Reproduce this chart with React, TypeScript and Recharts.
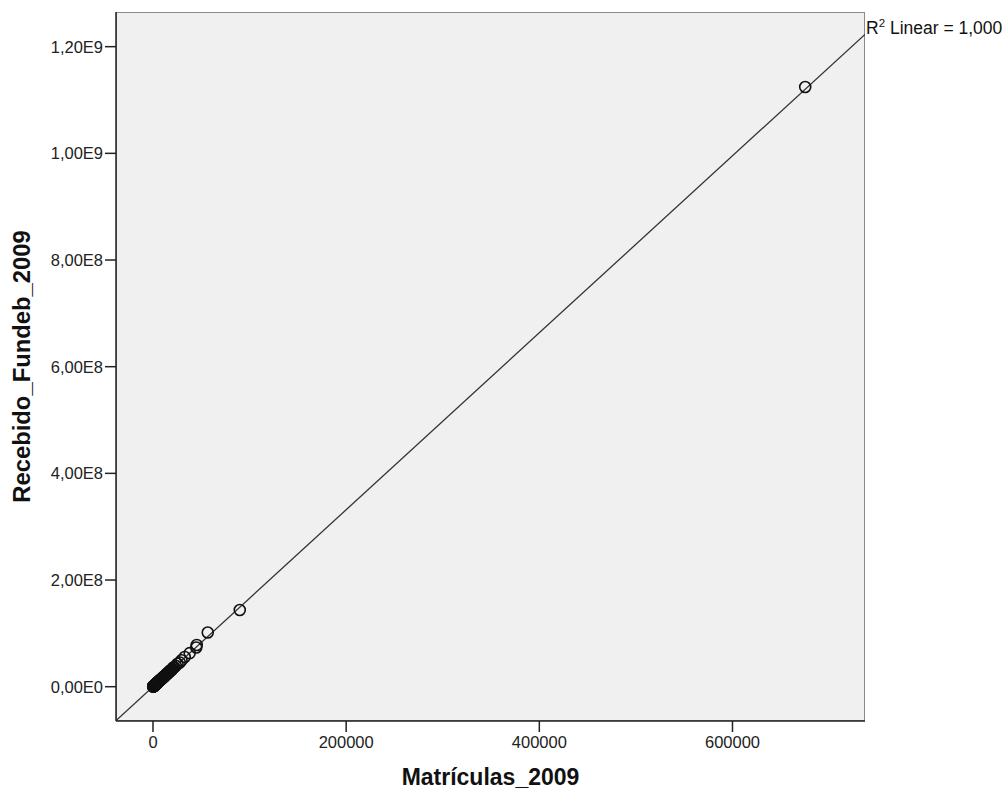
import React from "react";
import {
  CartesianGrid,
  Label,
  ReferenceArea,
  ReferenceLine,
  Scatter,
  ScatterChart,
  XAxis,
  YAxis,
} from "recharts";

// enrolments per municipality and the FUNDEB amount received (R$)
const matriculas2009 = [
  675300, 89850, 56700, 45300, 44800, 38000, 32850, 29500, 27700, 25400,
  23600, 21900, 20300, 18800, 17500, 16400, 15200, 14100, 13200, 12300,
  11500, 10800, 10100, 9400, 8800, 8200, 7700, 7200, 6700, 6200, 5800, 5400,
  5000, 4650, 4300, 4000, 3700, 3400, 3150, 2900, 2650, 2400, 2200, 2000,
  1800, 1600, 1420, 1250, 1080, 920, 780, 640, 510, 390,
  // smaller towns, packed together near the origin
  21000, 19500, 18200, 16900, 15800, 14700, 13600, 12700, 11900, 11100,
  10400, 9700, 9100, 8500, 7900, 7400, 6900, 6450, 6000, 5600, 5200, 4800,
  4450, 4150, 3850, 3550, 3250, 3000, 2750, 2500, 2300, 2100, 1900, 1700,
  1500, 1330, 1160, 1000, 850, 700, 570, 450, 330, 260, 200,
];
const recebido2009 = [
  1.1244e9, 1.438e8, 1.016e8, 7.82e7, 7.35e7, 6.3e7, 5.57e7, 4.95e7, 4.55e7,
  4.3e7, 3.9e7, 3.66e7, 3.35e7, 3.14e7, 2.93e7, 2.7e7, 2.55e7, 2.33e7,
  2.21e7, 2.03e7, 1.92e7, 1.78e7, 1.69e7, 1.55e7, 1.47e7, 1.36e7, 1.29e7,
  1.19e7, 1.12e7, 1.03e7, 9.7e6, 8.9e6, 8.4e6, 7.7e6, 7.2e6, 6.6e6, 6.2e6,
  5.6e6, 5.3e6, 4.8e6, 4.45e6, 3.95e6, 3.7e6, 3.3e6, 3.0e6, 2.7e6, 2.35e6,
  2.1e6, 1.8e6, 1.55e6, 1.3e6, 1.07e6, 8.6e5, 6.6e5,
  3.61e7, 3.16e7, 3.09e7, 2.74e7, 2.69e7, 2.38e7, 2.31e7, 2.06e7, 2.02e7,
  1.8e7, 1.77e7, 1.57e7, 1.55e7, 1.38e7, 1.34e7, 1.2e7, 1.17e7, 1.05e7,
  1.02e7, 9.1e6, 8.8e6, 7.8e6, 7.6e6, 6.7e6, 6.55e6, 5.75e6, 5.5e6, 4.9e6,
  4.7e6, 4.05e6, 3.9e6, 3.4e6, 3.2e6, 2.75e6, 2.55e6, 2.15e6, 1.97e6,
  1.62e6, 1.44e6, 1.13e6, 9.7e5, 7.3e5, 5.6e5, 4.4e5, 3.4e5,
];

const xTicks = [0, 200000, 400000, 600000];
const yTicks = [0, 2e8, 4e8, 6e8, 8e8, 1e9, 1.2e9];

// linear fit, R² = 1,000
const fitSlope = 1659;
const fitIntercept = 0;

const X_MIN = -38300;
const X_MAX = 737200;
const Y_MIN = -6.43e7;
const Y_MAX = 1.265e9;

const FONT = "'Liberation Sans', Arial, sans-serif";

const points = matriculas2009.map((m, i) => ({ x: m, y: recebido2009[i] }));

const sciLabel = (v: number) => {
  if (v === 0) return "0,00E0";
  const e = Math.floor(Math.log10(Math.abs(v)) + 1e-9);
  const m = v / Math.pow(10, e);
  return `${m.toFixed(2).replace(".", ",")}E${e}`;
};

const Ring = (props: any) => {
  const { cx, cy } = props;
  if (cx == null || cy == null) return <g />;
  return <circle cx={cx} cy={cy} r={5.5} fill="none" stroke="#111" strokeWidth={1.6} />;
};

const App = () => {
  return (
    <div style={{ position: "absolute", left: 0, top: 0, background: "#fff" }}>
      <ScatterChart
        width={1006}
        height={796}
        margin={{ top: 12, right: 141, bottom: 0, left: 0 }}
      >
        <CartesianGrid horizontal={false} vertical={false} fill="#f0f0f0" />
        <ReferenceArea
          x1={X_MIN}
          x2={X_MAX}
          y1={Y_MIN}
          y2={Y_MAX}
          fill="#f0f0f0"
          fillOpacity={1}
          stroke="#8a8a8a"
          strokeWidth={2}
          ifOverflow="hidden"
        >
          <Label
            content={({ viewBox }: any) => (
              <text
                x={viewBox.x + viewBox.width + 1}
                y={viewBox.y + 22}
                fontFamily={FONT}
                fontSize={17.5}
                fill="#111"
              >
                R
                <tspan dy={-7} fontSize={11.5}>
                  2
                </tspan>
                <tspan dy={7}> Linear = 1,000</tspan>
              </text>
            )}
          />
        </ReferenceArea>
        <XAxis
          type="number"
          dataKey="x"
          domain={[X_MIN, X_MAX]}
          allowDataOverflow
          ticks={xTicks}
          tickFormatter={(v) => String(v)}
          height={75}
          tickSize={11}
          tickMargin={4}
          axisLine={{ stroke: "#222", strokeWidth: 1.5 }}
          tickLine={{ stroke: "#222", strokeWidth: 1.5 }}
          tick={{ fill: "#222", fontSize: 16.5, fontFamily: FONT }}
        >
          <Label
            content={({ viewBox }: any) => (
              <text
                x={viewBox.x + viewBox.width / 2}
                y={viewBox.y + 64}
                textAnchor="middle"
                fontFamily={FONT}
                fontWeight="bold"
                fontSize={23}
                fill="#111"
              >
                Matrículas_2009
              </text>
            )}
          />
        </XAxis>
        <YAxis
          type="number"
          dataKey="y"
          domain={[Y_MIN, Y_MAX]}
          allowDataOverflow
          ticks={yTicks}
          tickFormatter={sciLabel}
          width={116}
          tickSize={11}
          tickMargin={2}
          axisLine={{ stroke: "#222", strokeWidth: 1.5 }}
          tickLine={{ stroke: "#222", strokeWidth: 1.5 }}
          tick={{ fill: "#222", fontSize: 16.5, fontFamily: FONT }}
        >
          <Label
            content={({ viewBox }: any) => {
              const cx = 30;
              const cy = viewBox.y + viewBox.height / 2;
              return (
                <text
                  x={cx}
                  y={cy}
                  transform={`rotate(-90 ${cx} ${cy})`}
                  textAnchor="middle"
                  fontFamily={FONT}
                  fontWeight="bold"
                  fontSize={23.8}
                  fill="#111"
                >
                  Recebido_Fundeb_2009
                </text>
              );
            }}
          />
        </YAxis>
        <ReferenceLine
          segment={[
            { x: X_MIN, y: fitSlope * X_MIN + fitIntercept },
            { x: X_MAX, y: fitSlope * X_MAX + fitIntercept },
          ]}
          stroke="#333"
          strokeWidth={1.3}
          ifOverflow="hidden"
        />
        <Scatter data={points} shape={<Ring />} isAnimationActive={false} />
      </ScatterChart>
    </div>
  );
};

export default App;
